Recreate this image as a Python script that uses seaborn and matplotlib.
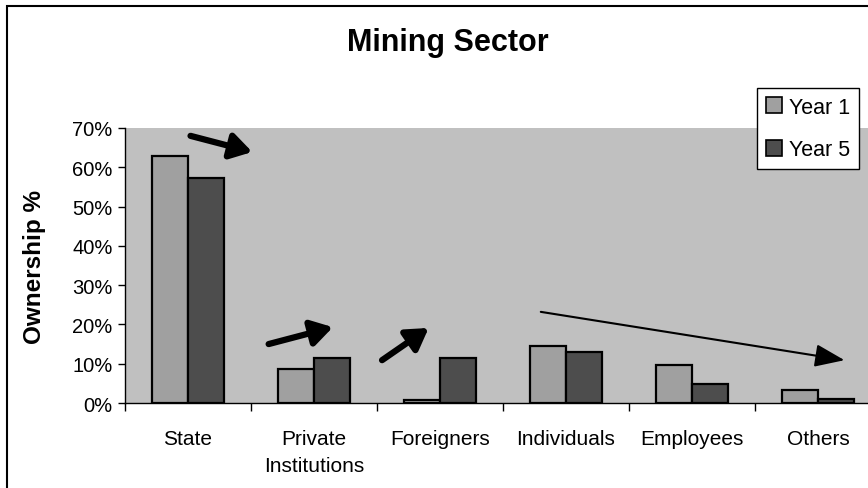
import matplotlib
matplotlib.use("Agg")
import matplotlib.pyplot as plt
import matplotlib.patches as mpatches
from matplotlib.ticker import FixedLocator, FuncFormatter
import seaborn as sns
import pandas as pd

categories = ["State", "Private\nInstitutions", "Foreigners", "Individuals", "Employees", "Others"]
year1 = [62.9, 8.7, 0.7, 14.6, 9.8, 3.3]
year5 = [57.4, 11.4, 11.4, 13.1, 4.8, 1.0]
series = ["Year 1", "Year 5"]
yticks = [0, 10, 20, 30, 40, 50, 60, 70]

df = pd.DataFrame({
    "cat": categories * 2,
    "val": year1 + year5,
    "year": [series[0]] * len(categories) + [series[1]] * len(categories),
})

sns.set_theme(style="white")
plt.rcParams["font.family"] = ["Liberation Sans", "DejaVu Sans"]
plt.rcParams.update({"text.color": "black", "axes.labelcolor": "black",
                     "xtick.color": "black", "ytick.color": "black"})

W, H = 868, 489
fig = plt.figure(figsize=(W / 100, H / 100), dpi=100)
fig.patch.set_facecolor("white")

ax = fig.add_axes([125 / W, 1 - 404 / H, (881 - 125) / W, (404 - 129) / H])
ax.set_facecolor("#C0C0C0")

sns.barplot(data=df, x="cat", y="val", hue="year", order=categories,
            palette=["#A0A0A0", "#4D4D4D"], edgecolor="black", linewidth=1.6,
            width=0.572, gap=0, ax=ax, legend=False, saturation=1)

ax.set_xlim(-0.5, 5.5)
ax.set_ylim(0, 70)
ax.yaxis.set_major_locator(FixedLocator(yticks))
ax.yaxis.set_major_formatter(FuncFormatter(lambda v, p: f"{int(v)}%"))
ax.tick_params(axis="y", left=True, length=5, width=1, color="black", labelsize=14.5,
               labelcolor="black", pad=4)
ax.set_xticks(range(len(categories)))
ax.set_xticklabels(categories, fontsize=15, linespacing=1.5, color="black")
ax.set_xticks([i - 0.5 for i in range(len(categories) + 1)], minor=True)
ax.tick_params(axis="x", which="major", bottom=False, length=0, pad=19)
ax.tick_params(axis="x", which="minor", bottom=True, length=6, width=1, color="black")
for lbl in ax.get_xticklabels():
    lbl.set_verticalalignment("top")

for s in ["top", "right"]:
    ax.spines[s].set_visible(False)
for s in ["left", "bottom"]:
    ax.spines[s].set_color("black")
    ax.spines[s].set_linewidth(1)

ax.set_xlabel("")
ax.set_ylabel("Ownership %", fontsize=17.5, fontweight="bold", color="black")
ax.yaxis.set_label_coords(-79 / 756, 0.5)

# trend arrows
thick = dict(arrowstyle="-|>,head_length=0.9,head_width=0.55", lw=4.5, color="black",
             shrinkA=0, shrinkB=0, mutation_scale=14)
ax.annotate("", xy=(0.51, 63.9), xytext=(0.02, 68.0), arrowprops=thick, annotation_clip=False)
ax.annotate("", xy=(1.15, 19.3), xytext=(0.64, 15.0), arrowprops=thick)
ax.annotate("", xy=(1.91, 19.1), xytext=(1.54, 10.9), arrowprops=thick)
thin = dict(arrowstyle="-|>,head_length=1.3,head_width=0.5", lw=1.5, color="black",
            shrinkA=0, shrinkB=0, mutation_scale=14)
ax.annotate("", xy=(5.21, 10.9), xytext=(2.80, 23.2), arrowprops=thin)

# title
fig.text(448 / W, 1 - 43 / H, "Mining Sector", ha="center", va="center",
         fontsize=22, fontweight="bold", color="black")

# legend
handles = [mpatches.Patch(facecolor=c, edgecolor="black", linewidth=1.2, label=l)
           for c, l in zip(["#A0A0A0", "#4D4D4D"], series)]
leg = fig.legend(handles=handles, loc="upper left", bbox_to_anchor=(757 / W, 1 - 89 / H),
                 frameon=True, fancybox=False, fontsize=15.5, handlelength=0.75,
                 handleheight=0.75, handletextpad=0.35, labelspacing=1.0,
                 borderpad=0.4, borderaxespad=0)
for t in leg.get_texts():
    t.set_color("black")
leg.get_frame().set_edgecolor("black")
leg.get_frame().set_linewidth(1)
leg.get_frame().set_facecolor("white")
leg.get_frame().set_alpha(1)

# outer chart border
fig.add_artist(mpatches.Rectangle((7 / W, -0.1), 1.2, 1.1 - 7 / H, transform=fig.transFigure,
                                  fill=False, edgecolor="black", linewidth=1.5))

fig.savefig("out.png", dpi=100)
